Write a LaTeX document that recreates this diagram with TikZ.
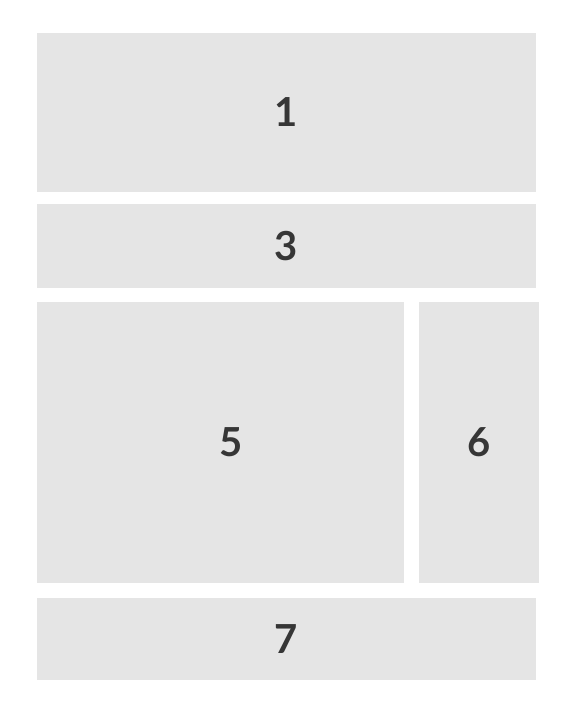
\documentclass[tikz,border=0pt]{standalone}
\usepackage{fontspec}
\setmainfont{Lato}
\definecolor{panelgray}{HTML}{E5E5E5}
\definecolor{labelgray}{HTML}{363636}
\tikzset{%
  panelfont/.style = {text=labelgray, font=\fontsize{40}{40}\selectfont\bfseries},%
  panel/.style     = {shape=rectangle, fill=panelgray, draw=none,%
                      inner sep=0pt, panelfont}%
}

\begin{document}
\begin{tikzpicture}[x=1pt,y=-1pt]
	\useasboundingbox (0,0) rectangle (564,712);
	\node [panel, minimum width=499pt, minimum height=159pt] (p1) at (286.5,112.5) {1};
	\node [panel, minimum width=499pt, minimum height=84pt] (p3) at (286.5,246) {3};
	\node [panel, minimum width=367pt, minimum height=281pt,%
	       label={[panelfont, xshift=11pt]center:5}] (p5) at (220.5,442.5) {};
	\node [panel, minimum width=120pt, minimum height=281pt] (p6) at (479,442.5) {6};
	\node [panel, minimum width=499pt, minimum height=82pt] (p7) at (286.5,639) {7};
\end{tikzpicture}
\end{document}
